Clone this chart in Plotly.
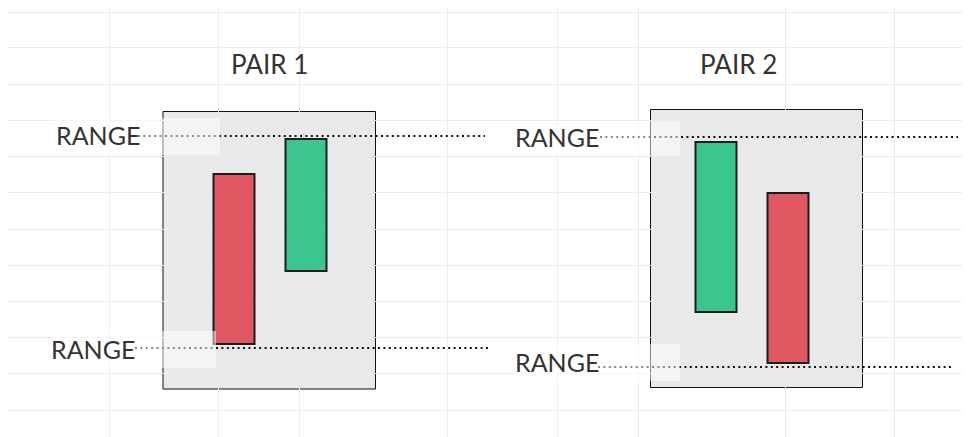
import plotly.graph_objects as go

# ---------------- data ----------------
pairs = ["PAIR 1", "PAIR 2"]
range_high = [301, 300]
range_low = [89, 70]
range_label = "RANGE"

# candles: x position, open, close (bearish = red, bullish = green)
candle_x = [234, 306, 716, 788]
candle_open = [263, 166, 125, 244]
candle_close = [93, 298, 295, 74]

grid_x = [109, 218, 299, 447, 557, 638, 785, 894]
grid_y = [425, 390, 353, 317, 281, 245, 208, 172, 136, 100, 64, 27]

# ---------------- layout geometry ----------------
W, H = 970, 437
OFF = 8  # page body margin compensation
panels = [(163, 375.5, 48, 325.5), (650.5, 862.5, 49.5, 327.5)]
pair_title_x = [269, 738]
pair_title_y = 373
line_spans = [((138, 485), (135, 488)), ((600, 958), (598, 953))]
label_right = [(139, 134), (598, 598)]
label_shift = [(1, -1), (0, 5)]
cover_boxes = [((55, 220, 282, 319), (50, 216, 69, 106)),
               ((512, 680, 281, 316), (512, 680, 56, 93))]

RED = "#e05862"
GREEN = "#3cc68f"
EDGE = "#1c1c1c"
TXT = "#333333"
FONT = "Lato"

fig = go.Figure()

# candles as floating bars
for x, o, c in zip(candle_x, candle_open, candle_close):
    col = GREEN if c > o else RED
    fig.add_trace(go.Bar(
        x=[x], y=[abs(c - o)], base=[min(o, c)], width=[41],
        marker=dict(color=col, line=dict(color=EDGE, width=2)),
        showlegend=False, hoverinfo="skip"))

# dotted range lines
for i in range(2):
    for lvl, (xa, xb) in zip([range_high[i], range_low[i]], line_spans[i]):
        fig.add_trace(go.Scatter(
            x=[xa, xb], y=[lvl, lvl], mode="lines",
            line=dict(color="#111111", width=2, dash="2px,3.4px"),
            showlegend=False, hoverinfo="skip"))

shapes = []
for (x0, x1, y0, y1) in panels:
    shapes.append(dict(type="rect", xref="x", yref="y", x0=x0, x1=x1, y0=y0, y1=y1,
                       fillcolor="#e8e9eb", line=dict(color="#111111", width=1),
                       layer="below"))
for pair in cover_boxes:
    for (x0, x1, y0, y1) in pair:
        shapes.append(dict(type="rect", xref="x", yref="y", x0=x0, x1=x1, y0=y0, y1=y1,
                           fillcolor="rgba(255,255,255,0.5)", line=dict(width=0),
                           layer="above"))

annotations = []
for i, name in enumerate(pairs):
    annotations.append(dict(x=pair_title_x[i], y=pair_title_y, xref="x", yref="y",
                            text=name, showarrow=False, xanchor="center", yanchor="middle",
                            font=dict(family=FONT, size=26, color=TXT)))
    for lvl, xr, dy in zip([range_high[i], range_low[i]], label_right[i], label_shift[i]):
        annotations.append(dict(x=xr, y=lvl, xref="x", yref="y", text=range_label,
                                showarrow=False, xanchor="right", yanchor="middle",
                                xshift=3, yshift=dy,
                                font=dict(family=FONT, size=25, color=TXT)))

fig.update_layout(
    width=W, height=H, margin=dict(l=0, r=0, t=0, b=0),
    paper_bgcolor="white", plot_bgcolor="white",
    barmode="overlay", shapes=shapes, annotations=annotations,
    xaxis=dict(range=[OFF, W + OFF], tickvals=grid_x, showticklabels=False, showgrid=True,
               gridcolor="#ececec", gridwidth=1, zeroline=False, showline=False,
               fixedrange=True),
    yaxis=dict(range=[-OFF, H - OFF], tickvals=grid_y, showticklabels=False, showgrid=True,
               gridcolor="#ececec", gridwidth=1, zeroline=False, showline=False,
               fixedrange=True),
)

fig.write_html("out.html")
